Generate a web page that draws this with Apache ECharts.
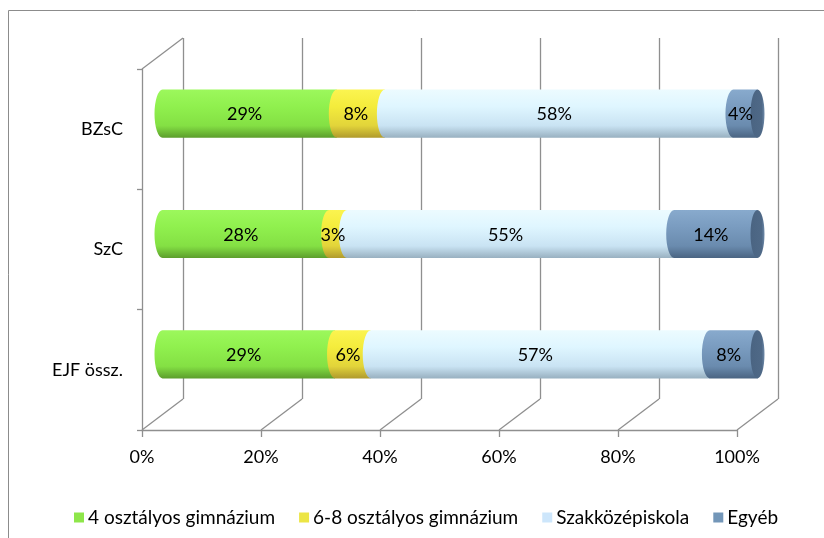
<!DOCTYPE html>
<html>
<head>
<meta charset="utf-8">
<script src="https://cdn.jsdelivr.net/npm/echarts@6/dist/echarts.min.js"></script>
<style>
  html, body { margin: 0; padding: 0; background: #fff; }
  #chart { width: 824px; height: 538px; }
</style>
</head>
<body>
<div id="chart"></div>
<script>
// chart data (percent labels as shown)
const categories = ['BZsC', 'SzC', 'EJF össz.'];
const seriesNames = ['4 osztályos gimnázium', '6-8 osztályos gimnázium', 'Szakközépiskola', 'Egyéb'];
const gimn4 = [29, 28, 29];
const gimn68 = [8, 3, 6];
const szakkozep = [58, 55, 57];
const egyeb = [4, 14, 8];
const xTicks = [0, 20, 40, 60, 80, 100];

const FONT = 'Lato';
const GRAY = '#8f8f8f';
const legendColors = ['#8ee64a', '#ece545', '#cde6fb', '#7396b8'];
// cylinder shading, top -> bottom
const shades = [
  ['#9cf85c', '#90f04e', '#84e044', '#5c9e2c'],
  ['#fbf450', '#f4ec3c', '#e2d43a', '#b09a2c'],
  ['#ecfbff', '#dff6ff', '#c9e3f3', '#98b0c0'],
  ['#88aacd', '#7a9cc0', '#6a8bae', '#4a6482']
];

const allValues = [gimn4, gimn68, szakkozep, egyeb];

// 100% stacking: build [start, end, category, label] per segment
function buildSeriesData(s) {
  return categories.map(function (c, i) {
    let total = 0, before = 0;
    allValues.forEach(function (arr, k) {
      total += arr[i];
      if (k < s) before += arr[i];
    });
    const start = before / total * 100;
    const end = (before + allValues[s][i]) / total * 100;
    return [start, end, i, allValues[s][i]];
  });
}

function gradient(stops) {
  return {
    type: 'linear', x: 0, y: 0, x2: 0, y2: 1,
    colorStops: [
      { offset: 0, color: stops[0] },
      { offset: 0.35, color: stops[1] },
      { offset: 0.75, color: stops[2] },
      { offset: 1, color: stops[3] }
    ]
  };
}

function makeRenderItem(s) {
  return function (params, api) {
    const p0 = api.coord([api.value(0), api.value(2)]);
    const p1 = api.coord([api.value(1), api.value(2)]);
    const band = api.size([0, 1])[1];
    const ry = band * 0.2;
    const rx = 8;
    const cy = p0[1];
    const x0 = p0[0], x1 = p1[0];
    const children = [{
      type: 'path',
      shape: {
        pathData: 'M' + x0 + ',' + (cy - ry) +
          ' A' + rx + ',' + ry + ' 0 0 0 ' + x0 + ',' + (cy + ry) +
          ' L' + x1 + ',' + (cy + ry) + ' L' + x1 + ',' + (cy - ry) + ' Z'
      },
      style: { fill: gradient(shades[s]) }
    }];
    if (s === allValues.length - 1) {
      const cr = 7;
      children.push({
        type: 'path',
        shape: {
          pathData: 'M' + x1 + ',' + (cy - ry) +
            ' A' + cr + ',' + ry + ' 0 1 1 ' + x1 + ',' + (cy + ry) +
            ' A' + cr + ',' + ry + ' 0 1 1 ' + x1 + ',' + (cy - ry) + ' Z'
        },
        style: {
          fill: {
            type: 'linear', x: 0, y: 0, x2: 1, y2: 0,
            colorStops: [
              { offset: 0, color: '#4a6482' },
              { offset: 0.8, color: '#4f6987' },
              { offset: 1, color: '#6d89a8' }
            ]
          }
        }
      });
    }
    children.push({
      type: 'text',
      z2: 100,
      style: {
        x: (x0 + x1) / 2 - 5,
        y: cy + 1,
        text: api.value(3) + '%',
        fill: '#000',
        font: '18px ' + FONT,
        align: 'center',
        verticalAlign: 'middle'
      }
    });
    return { type: 'group', children: children };
  };
}

const chart = echarts.init(document.getElementById('chart'));

const option = {
  animation: false,
  textStyle: { fontFamily: FONT },
  grid: [
    { left: 142, top: 69, width: 595, height: 361 },   // front plane
    { left: 183, top: 38, width: 595, height: 361 },   // back wall
    { left: 162.5, top: 53.5, width: 595, height: 361 } // bars, mid depth
  ],
  xAxis: [
    {
      gridIndex: 0, type: 'value', min: 0, max: 100, interval: 20,
      axisLine: { show: true, lineStyle: { color: GRAY, width: 1.3 } },
      axisTick: { show: true, length: 7, lineStyle: { color: GRAY, width: 1.3 } },
      splitLine: { show: false },
      axisLabel: { formatter: '{value}%', color: '#000', fontSize: 18, fontFamily: FONT, margin: 18 }
    },
    {
      gridIndex: 1, type: 'value', min: 0, max: 100, interval: 20,
      axisLine: { show: false }, axisTick: { show: false }, axisLabel: { show: false },
      splitLine: { show: true, lineStyle: { color: GRAY, width: 1.3 } }
    },
    {
      gridIndex: 2, type: 'value', min: 0, max: 100, show: false
    }
  ],
  yAxis: [
    {
      gridIndex: 0, type: 'category', inverse: true, data: categories,
      axisLine: { show: true, lineStyle: { color: GRAY, width: 1.3 } },
      axisTick: { show: true, length: 5, lineStyle: { color: GRAY, width: 1.3 } },
      axisLabel: { color: '#000', fontSize: 18, fontFamily: FONT, margin: 19 }
    },
    { gridIndex: 1, type: 'category', inverse: true, data: categories, show: false },
    { gridIndex: 2, type: 'category', inverse: true, data: categories, show: false }
  ],
  legend: {
    left: 69, top: 503,
    itemWidth: 10, itemHeight: 10, itemGap: 24,
    icon: 'rect',
    textStyle: { color: '#000', fontSize: 19, fontFamily: FONT, padding: [0, 0, 0, -1] },
    data: seriesNames
  },
  series: seriesNames.map(function (name, s) {
    return {
      name: name,
      type: 'custom',
      xAxisIndex: 2,
      yAxisIndex: 2,
      itemStyle: { color: legendColors[s] },
      encode: { x: [0, 1], y: 2 },
      renderItem: makeRenderItem(s),
      data: buildSeriesData(s)
    };
  })
};

chart.setOption(option);

// 3D frame: floor and left wall diagonals between the front and back planes
function px(axisKey, index, v) {
  const finder = {};
  finder[axisKey] = index;
  return chart.convertToPixel(finder, v);
}
const fBand = px('yAxisIndex', 0, 1) - px('yAxisIndex', 0, 0);
const bBand = px('yAxisIndex', 1, 1) - px('yAxisIndex', 1, 0);
const fBottom = px('yAxisIndex', 0, categories.length - 1) + fBand / 2;
const bBottom = px('yAxisIndex', 1, categories.length - 1) + bBand / 2;
const fTop = px('yAxisIndex', 0, 0) - fBand / 2;
const bTop = px('yAxisIndex', 1, 0) - bBand / 2;

const frame = xTicks.map(function (v) {
  return {
    type: 'line',
    shape: { x1: px('xAxisIndex', 0, v), y1: fBottom, x2: px('xAxisIndex', 1, v), y2: bBottom },
    style: { stroke: GRAY, lineWidth: 1.3 }
  };
});
frame.push({
  type: 'line',
  shape: { x1: px('xAxisIndex', 0, 0), y1: fTop, x2: px('xAxisIndex', 1, 0), y2: bTop },
  style: { stroke: GRAY, lineWidth: 1.3 }
});
frame.push({
  type: 'rect',
  shape: { x: 8.5, y: 10.5, width: 830, height: 540 },
  style: { fill: null, stroke: '#8c8c8c', lineWidth: 1 },
  silent: true
});

chart.setOption({ graphic: frame });
</script>
</body>
</html>
